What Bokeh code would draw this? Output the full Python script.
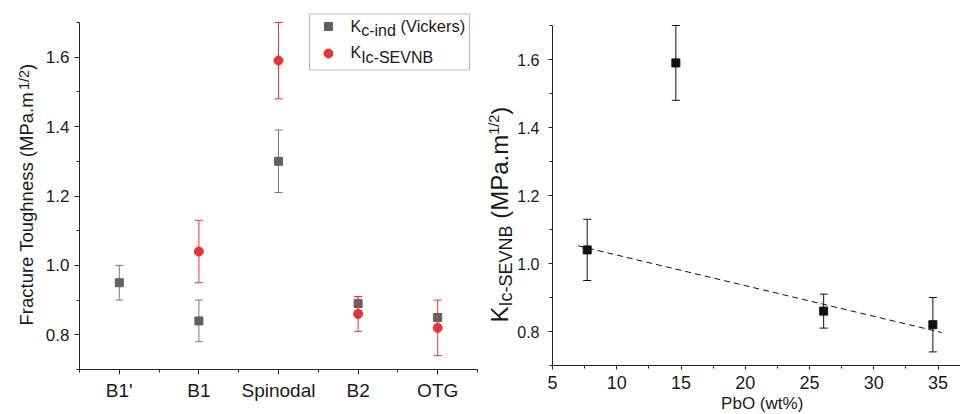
import math
from bokeh.plotting import figure
from bokeh.layouts import row
from bokeh.models import (Range1d, FixedTicker, Label, BoxAnnotation, LinearAxis,
                          PrintfTickFormatter)
from bokeh.embed import file_html
from bokeh.resources import INLINE

# ---------------- data ----------------
# Left panel: fracture toughness per phase
phases = ["B1'", "B1", "Spinodal", "B2", "OTG"]
kc_phases = ["B1'", "B1", "Spinodal", "B2", "OTG"]
kc_vals = [0.95, 0.84, 1.30, 0.89, 0.85]
kc_err = [0.05, 0.06, 0.09, 0.02, 0.01]
kic_phases = ["B1", "Spinodal", "B2", "OTG"]
kic_vals = [1.04, 1.59, 0.86, 0.82]
kic_err = [0.09, 0.11, 0.05, 0.08]

# Right panel: KIc-SEVNB vs PbO content
pbo_wt = [7.7, 14.6, 26.1, 34.6]
kic_sevnb = [1.04, 1.59, 0.86, 0.82]
kic_sevnb_err = [0.09, 0.11, 0.05, 0.08]
fit_x = [7.0, 35.3]
fit_y = [1.052, 0.797]

y_lim = (0.7, 1.7)
y_ticks = [0.8, 1.0, 1.2, 1.4, 1.6]
y_minor = [0.7, 0.9, 1.1, 1.3, 1.5, 1.7]
pbo_lim = (5, 36.75)
pbo_ticks = [5, 10, 15, 20, 25, 30, 35]
pbo_minor = [7.5, 12.5, 17.5, 22.5, 27.5, 32.5]

# ---------------- style ----------------
FONT = "Liberation Sans"
TXT = "#1a1a1a"
AX = "#222222"
GRAY = "#616161"
GRAY_BAR = "#7a7a7a"
RED = "#e83434"
BLACK = "#111111"
BASE_OFF = 0.37  # empirical baseline correction (em)

AW = {" ": 278, "(": 333, ")": 333, ".": 278, "/": 278, "-": 333, "%": 889, "'": 191,
      "0": 556, "1": 556, "2": 556, "3": 556, "4": 556, "5": 556, "6": 556, "7": 556, "8": 556, "9": 556,
      "A": 667, "B": 667, "C": 722, "E": 667, "F": 611, "I": 278, "K": 667, "M": 833, "N": 722,
      "O": 778, "P": 667, "S": 667, "T": 611, "V": 667,
      "a": 556, "b": 556, "c": 500, "d": 556, "e": 556, "g": 556, "h": 556, "i": 222, "k": 500,
      "m": 833, "n": 556, "o": 556, "r": 333, "s": 500, "t": 278, "u": 556, "w": 722}

W, H = 480, 414


def tw(s, size):
    return sum(AW.get(c, 556) for c in s) * size / 1000.0


def make_label(x, y, text, size, angle=0.0, align="left"):
    lab = Label(x=x, y=y, angle=angle, text=text, x_units="screen", y_units="screen",
                text_font=FONT, text_font_size=f"{size}px", text_color=TXT,
                text_baseline="alphabetic", text_align=align)
    return lab


def chain(p, pieces, cx, cy, vertical=False):
    """Rich text from pieces (text, px size, baseline raise); cx, cy = baseline start, canvas px."""
    pos = 0.0
    x0, y0 = cx, H - cy
    for text, size, shift in pieces:
        stripped = text.lstrip(" ")
        pos += tw(text[: len(text) - len(stripped)], size)
        raise_ = shift + BASE_OFF * size
        if vertical:
            lab = make_label(x0 - raise_, y0 + pos, stripped, size, angle=math.pi / 2)
        else:
            lab = make_label(x0 + pos, y0 + raise_, stripped, size)
        p.add_layout(lab)
        pos += tw(stripped, size)


def xrange_for(d0, d1, px0, px1):
    s = (d1 - d0) / (px1 - px0)
    return Range1d(d0 - px0 * s, d1 + (W - px1) * s)


def yrange_for(d0, d1, px_bottom, px_top):
    s = (d1 - d0) / (px_bottom - px_top)
    return Range1d(d0 - (H - px_bottom) * s, d1 + px_top * s)


def make_fig(xr, yr, xlim, ylim, xfs, yfs):
    p = figure(width=W, height=H, output_backend="svg", toolbar_location=None,
               x_range=xr, y_range=yr, x_axis_location=None, y_axis_location=None,
               min_border=0, min_border_left=0, min_border_right=0,
               min_border_top=0, min_border_bottom=0)
    xa = LinearAxis(fixed_location=ylim[0], bounds=xlim)
    ya = LinearAxis(fixed_location=xlim[0], bounds=ylim)
    p.add_layout(xa, "below")
    p.add_layout(ya, "left")
    for ax in (xa, ya):
        ax.axis_line_color = AX
        ax.axis_line_width = 1
        ax.major_tick_line_color = AX
        ax.minor_tick_line_color = AX
        ax.major_tick_in = 0
        ax.minor_tick_in = 0
        ax.major_tick_out = 5
        ax.minor_tick_out = 3
        ax.major_label_text_font = FONT
        ax.major_label_text_color = TXT
    xa.major_label_text_font_size = f"{xfs}px"
    ya.major_label_text_font_size = f"{yfs}px"
    ya.formatter = PrintfTickFormatter(format="%.1f")
    p.grid.visible = False
    p.outline_line_color = None
    p.background_fill_color = "white"
    p.border_fill_color = "white"
    return p, xa, ya


# ---------------- left panel ----------------
cat_lim = (0, len(phases))
p1, xa1, ya1 = make_fig(xrange_for(0, len(phases), 79, 477), yrange_for(*y_lim, 369, 22),
                        cat_lim, y_lim, 19, 17)
cat_pos = {c: i + 0.5 for i, c in enumerate(phases)}
xa1.ticker = FixedTicker(ticks=[cat_pos[c] for c in phases],
                         minor_ticks=list(range(len(phases) + 1)))
xa1.major_label_overrides = {cat_pos[c]: c for c in phases}
xa1.formatter = PrintfTickFormatter(format="%.1f")
xa1.major_label_standoff = 5
ya1.ticker = FixedTicker(ticks=y_ticks, minor_ticks=y_minor)
ya1.major_label_standoff = 5

kx = [cat_pos[c] for c in kc_phases]
k_lo = [v - e for v, e in zip(kc_vals, kc_err)]
k_hi = [v + e for v, e in zip(kc_vals, kc_err)]
p1.segment(x0=kx, y0=k_lo, x1=kx, y1=k_hi, line_color=GRAY_BAR, line_width=1)
p1.scatter(x=kx + kx, y=k_lo + k_hi, marker="dash", size=8, line_color=GRAY_BAR, line_width=1)
p1.scatter(x=kx, y=kc_vals, marker="square", size=8, fill_color=GRAY, line_color=GRAY)

rx = [cat_pos[c] for c in kic_phases]
r_lo = [v - e for v, e in zip(kic_vals, kic_err)]
r_hi = [v + e for v, e in zip(kic_vals, kic_err)]
p1.segment(x0=rx, y0=r_lo, x1=rx, y1=r_hi, line_color=RED, line_width=1)
p1.scatter(x=rx + rx, y=r_lo + r_hi, marker="dash", size=8, line_color=RED, line_width=1)
p1.scatter(x=rx, y=kic_vals, marker="circle", size=9, fill_color=RED, line_color=RED)

# y-axis title with superscript
chain(p1, [("Fracture Toughness (MPa.m", 18.5, 0), ("1/2", 14.5, 4), (")", 18.5, 0)],
      32.5, 325, vertical=True)

# legend (box, swatches, rich labels)
p1.add_layout(BoxAnnotation(left=309, right=469, top=H - 13.5, bottom=H - 69.5,
                            left_units="screen", right_units="screen",
                            top_units="screen", bottom_units="screen",
                            fill_alpha=0.0, line_color="#222222", line_width=1.2))
p1.extra_x_ranges = {"px": Range1d(0, W)}
p1.extra_y_ranges = {"px": Range1d(0, H)}
p1.scatter(x=[328], y=[H - 26], marker="square", size=8,
           fill_color=GRAY, line_color=GRAY, x_range_name="px", y_range_name="px")
p1.scatter(x=[328], y=[H - 53], marker="circle", size=9,
           fill_color=RED, line_color=RED, x_range_name="px", y_range_name="px")
chain(p1, [("K", 16, 0), ("c-ind", 16, -4.3), (" (Vickers)", 16.5, 0)], 350, 31.7)
chain(p1, [("K", 16, 0), ("Ic-SEVNB", 16, -4.8)], 350, 58.3)

# ---------------- right panel ----------------
p2, xa2, ya2 = make_fig(xrange_for(*pbo_lim, 72, 480), yrange_for(*y_lim, 365, 25),
                        pbo_lim, y_lim, 18, 16)
xa2.ticker = FixedTicker(ticks=pbo_ticks, minor_ticks=pbo_minor)
xa2.formatter = PrintfTickFormatter(format="%d")
ya2.ticker = FixedTicker(ticks=y_ticks, minor_ticks=y_minor)
xa2.major_tick_out = 4
ya2.major_tick_out = 4
xa2.major_label_standoff = 6
ya2.major_label_standoff = 9

p2.line(x=fit_x, y=fit_y, line_color=BLACK, line_width=1, line_dash="6 4")
s_lo = [v - e for v, e in zip(kic_sevnb, kic_sevnb_err)]
s_hi = [v + e for v, e in zip(kic_sevnb, kic_sevnb_err)]
p2.segment(x0=pbo_wt, y0=s_lo, x1=pbo_wt, y1=s_hi, line_color=BLACK, line_width=1)
p2.scatter(x=pbo_wt + pbo_wt, y=s_lo + s_hi, marker="dash", size=8, line_color=BLACK, line_width=1)
p2.scatter(x=pbo_wt, y=kic_sevnb, marker="square", size=8, fill_color=BLACK, line_color=BLACK)

chain(p2, [("K", 24, 0), ("Ic-SEVNB", 18, -4), (" (MPa.m", 24, 0), ("1/2", 14.5, 9), (")", 24, 0)],
      28, 322, vertical=True)

p2.add_layout(make_label(281.7, H - 409.5 + BASE_OFF * 17, "PbO (wt%)", 17, align="center"))

layout = row(p1, p2)
open("out.html", "w").write(file_html(layout, INLINE))
